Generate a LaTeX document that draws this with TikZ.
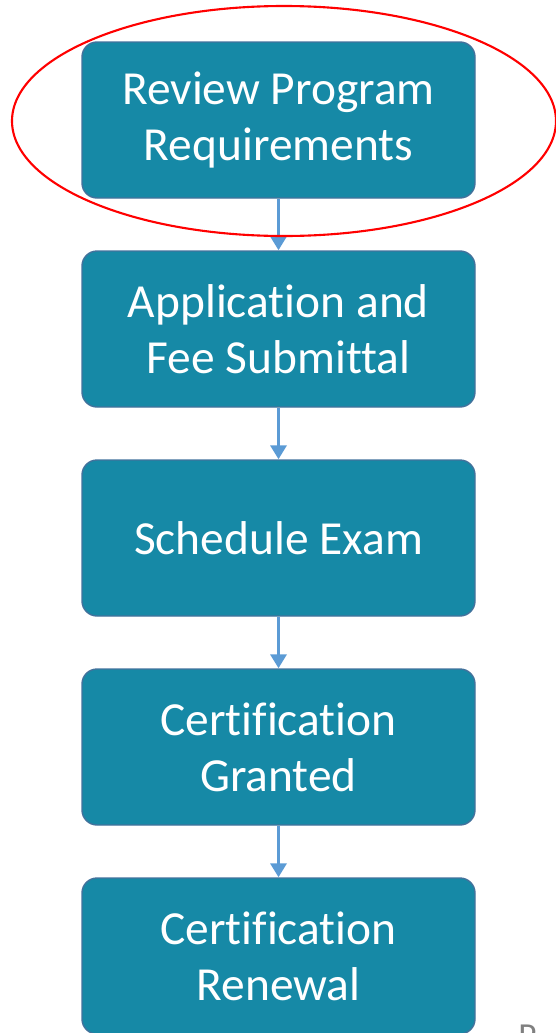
\documentclass[tikz,border=0pt]{standalone}
\usepackage{fontspec}
\setmainfont{Carlito}[Ligatures=NoCommon]
\usetikzlibrary{arrows.meta}
\definecolor{boxfill}{RGB}{22,137,166}
\definecolor{boxline}{RGB}{66,114,156}
\definecolor{arrowblue}{RGB}{91,155,213}
\begin{document}
\begin{tikzpicture}[-{Triangle[length=0.28cm,width=0.32cm]},node distance=4.18cm,
    step node/.style={rectangle,rounded corners=0.3cm,draw=boxline,line width=0.8pt,fill=boxfill,text=white,
        minimum width=7.86cm,minimum height=3.12cm,align=center,font=\fontsize{27}{32}\selectfont}]
    \useasboundingbox (0,0) rectangle (11.12,-20.66);

    \node[step node] (1) at (5.57,-2.4) {Review Program\\Requirements};
    \node[step node] (2) [below of=1] {Application and\\Fee Submittal};
    \node[step node] (3) [below of=2] {Schedule Exam};
    \node[step node] (4) [below of=3] {Certification\\Granted};
    \node[step node] (5) [below of=4] {Certification\\Renewal};

    \path[draw=arrowblue,fill=arrowblue,line width=1.9pt]
        (1) edge (2)
        (2) edge (3)
        (3) edge (4)
        (4) edge (5);

    % red marking round the first step
    \draw[-,red,line width=1.2pt] (5.68,-2.42) ellipse (5.44cm and 2.3cm);

    % cut-off text at the page edges
    \node[-,anchor=base,inner sep=0pt,font=\fontsize{36}{40}\selectfont\bfseries] (title) at (4.32,0.21) {g};
    \node[-,anchor=north west,inner sep=0pt,text=gray,font=\fontsize{20}{24}\selectfont] (page) at (10.36,-20.5) {P};
\end{tikzpicture}
\end{document}
